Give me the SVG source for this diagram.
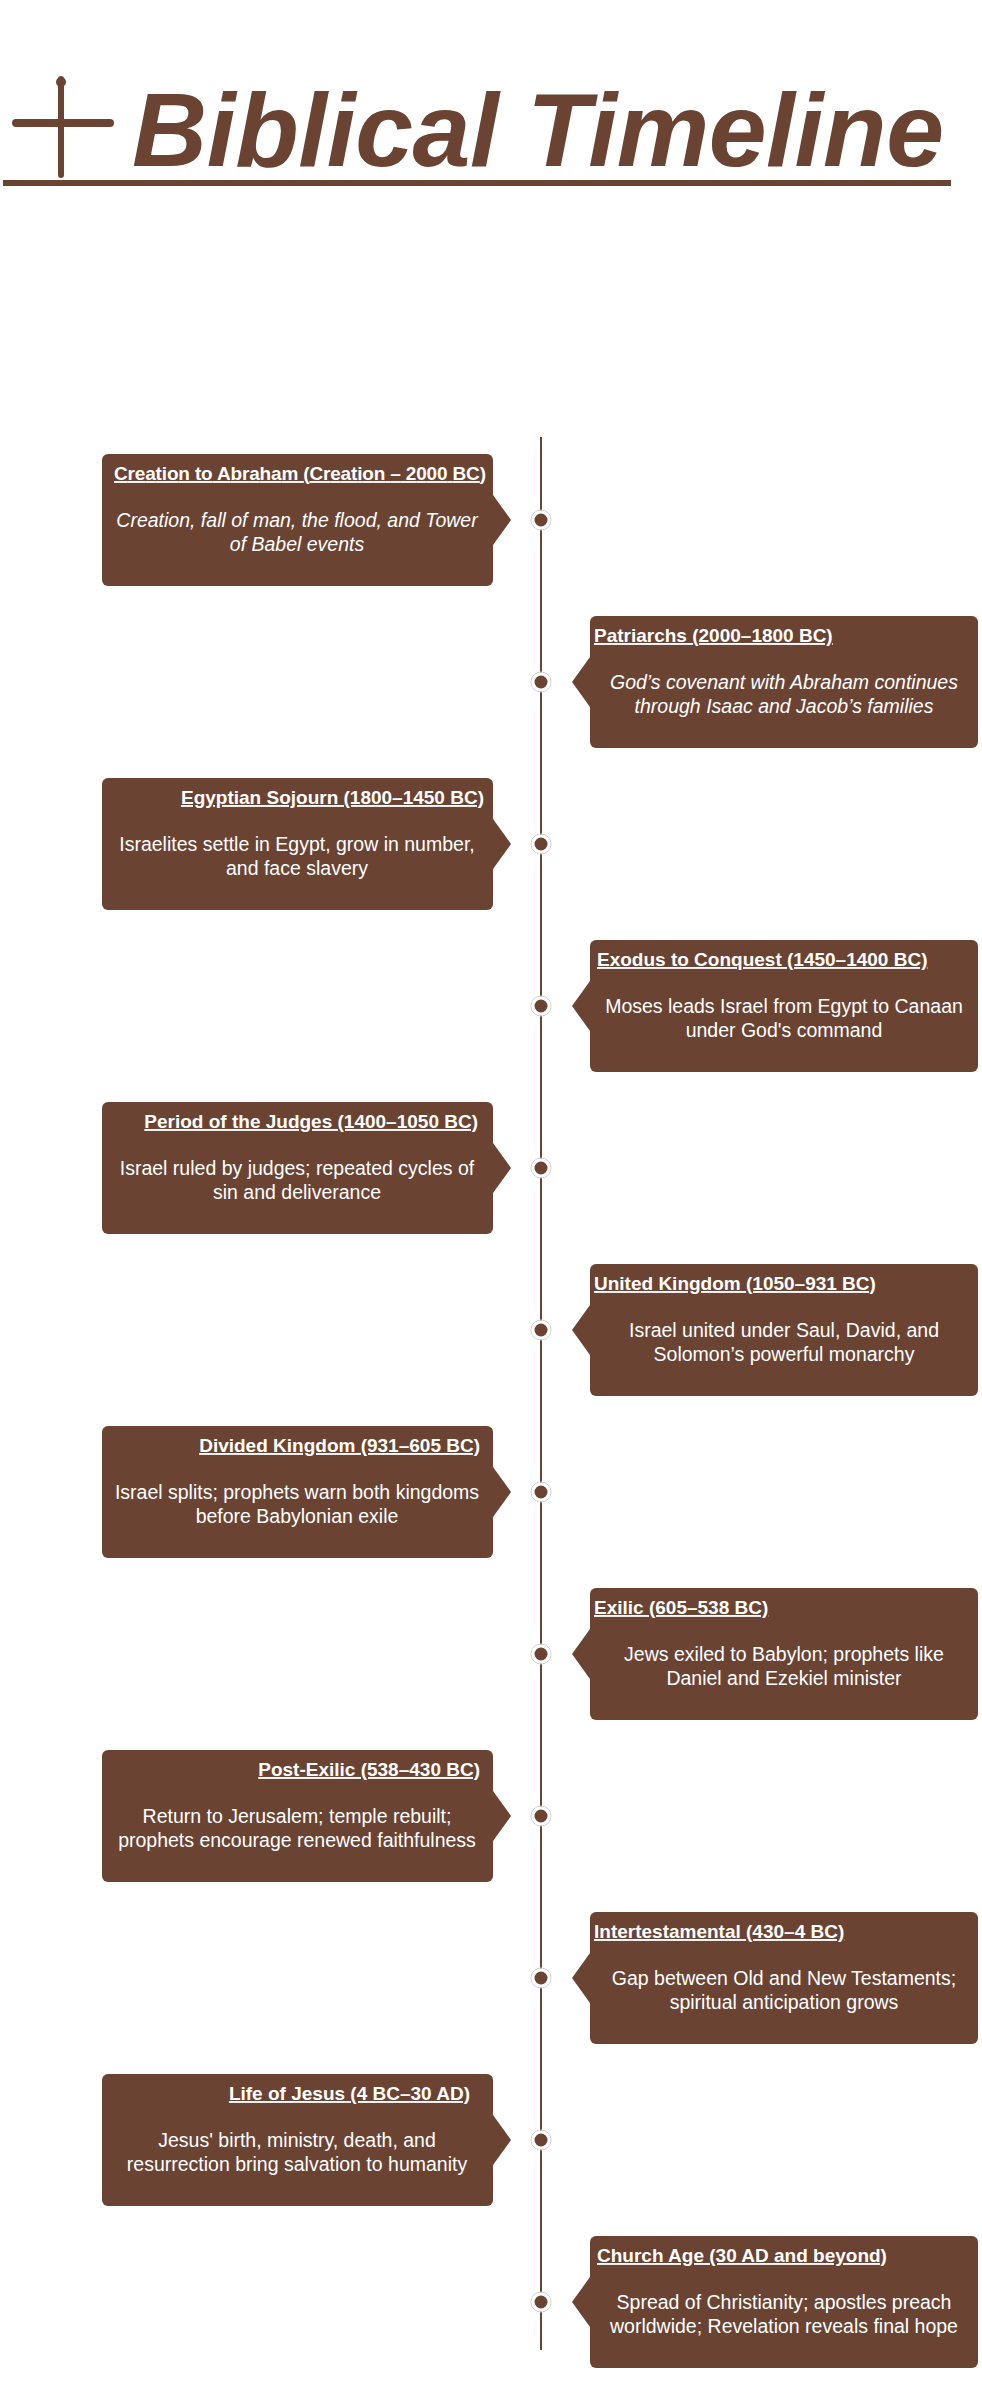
<svg xmlns="http://www.w3.org/2000/svg" width="982" height="2381" viewBox="0 0 982 2381">
<style>
.b{fill:#6B4332}
.t{font-family:"Liberation Sans",Arial,sans-serif;font-size:19px;font-weight:bold;fill:#fff;text-decoration:underline}
.d{font-family:"Liberation Sans",Arial,sans-serif;font-size:19.5px;fill:#fff;text-anchor:middle}
.dot{fill:#6B4332;stroke:#fff;stroke-width:3}
.ring{fill:none;stroke:#ccc;stroke-width:1}
</style>
<rect width="982" height="2381" fill="#fff"/>
<g id="header">
<rect x="58" y="76" width="6" height="102" rx="3" class="b"/>
<circle cx="61" cy="82" r="5" class="b"/>
<rect x="12" y="119" width="102" height="8" rx="4" class="b"/>
<text x="132" y="166" font-family="Liberation Sans,Arial,sans-serif" font-size="104" font-weight="bold" font-style="italic" class="b" textLength="812">Biblical Timeline</text>
<rect x="3" y="180" width="948" height="6" class="b"/>
</g>
<g id="connectors">
<line x1="541" y1="437" x2="541" y2="2350" stroke="#6B4332" stroke-width="2"/>
</g>
<g id="n1"><rect x="102" y="454" width="391" height="132" rx="6" class="b"/><path d="M493 495 L511 520 L493 545Z" class="b"/><circle cx="541" cy="520" r="10" class="ring"/><circle cx="541" cy="520" r="8" class="dot"/><text class="t" x="486" y="480" text-anchor="end" textLength="372">Creation to Abraham (Creation – 2000 BC)</text><text class="d" x="297" y="527" font-style="italic">Creation, fall of man, the flood, and Tower</text><text class="d" x="297" y="551" font-style="italic">of Babel events</text></g>
<g id="n2"><rect x="590" y="616" width="388" height="132" rx="6" class="b"/><path d="M590 657 L572 682 L590 707Z" class="b"/><circle cx="541" cy="682" r="10" class="ring"/><circle cx="541" cy="682" r="8" class="dot"/><text class="t" x="594" y="642">Patriarchs (2000–1800 BC)</text><text class="d" x="784" y="689" font-style="italic">God’s covenant with Abraham continues</text><text class="d" x="784" y="713" font-style="italic">through Isaac and Jacob’s families</text></g>
<g id="n3"><rect x="102" y="778" width="391" height="132" rx="6" class="b"/><path d="M493 819 L511 844 L493 869Z" class="b"/><circle cx="541" cy="844" r="10" class="ring"/><circle cx="541" cy="844" r="8" class="dot"/><text class="t" x="484" y="804" text-anchor="end">Egyptian Sojourn (1800–1450 BC)</text><text class="d" x="297" y="851">Israelites settle in Egypt, grow in number,</text><text class="d" x="297" y="875">and face slavery</text></g>
<g id="n4"><rect x="590" y="940" width="388" height="132" rx="6" class="b"/><path d="M590 981 L572 1006 L590 1031Z" class="b"/><circle cx="541" cy="1006" r="10" class="ring"/><circle cx="541" cy="1006" r="8" class="dot"/><text class="t" x="597" y="966">Exodus to Conquest (1450–1400 BC)</text><text class="d" x="784" y="1013">Moses leads Israel from Egypt to Canaan</text><text class="d" x="784" y="1037">under God's command</text></g>
<g id="n5"><rect x="102" y="1102" width="391" height="132" rx="6" class="b"/><path d="M493 1143 L511 1168 L493 1193Z" class="b"/><circle cx="541" cy="1168" r="10" class="ring"/><circle cx="541" cy="1168" r="8" class="dot"/><text class="t" x="478" y="1128" text-anchor="end">Period of the Judges (1400–1050 BC)</text><text class="d" x="297" y="1175">Israel ruled by judges; repeated cycles of</text><text class="d" x="297" y="1199">sin and deliverance</text></g>
<g id="n6"><rect x="590" y="1264" width="388" height="132" rx="6" class="b"/><path d="M590 1305 L572 1330 L590 1355Z" class="b"/><circle cx="541" cy="1330" r="10" class="ring"/><circle cx="541" cy="1330" r="8" class="dot"/><text class="t" x="594" y="1290">United Kingdom (1050–931 BC)</text><text class="d" x="784" y="1337">Israel united under Saul, David, and</text><text class="d" x="784" y="1361">Solomon’s powerful monarchy</text></g>
<g id="n7"><rect x="102" y="1426" width="391" height="132" rx="6" class="b"/><path d="M493 1467 L511 1492 L493 1517Z" class="b"/><circle cx="541" cy="1492" r="10" class="ring"/><circle cx="541" cy="1492" r="8" class="dot"/><text class="t" x="480" y="1452" text-anchor="end">Divided Kingdom (931–605 BC)</text><text class="d" x="297" y="1499">Israel splits; prophets warn both kingdoms</text><text class="d" x="297" y="1523">before Babylonian exile</text></g>
<g id="n8"><rect x="590" y="1588" width="388" height="132" rx="6" class="b"/><path d="M590 1629 L572 1654 L590 1679Z" class="b"/><circle cx="541" cy="1654" r="10" class="ring"/><circle cx="541" cy="1654" r="8" class="dot"/><text class="t" x="594" y="1614">Exilic (605–538 BC)</text><text class="d" x="784" y="1661">Jews exiled to Babylon; prophets like</text><text class="d" x="784" y="1685">Daniel and Ezekiel minister</text></g>
<g id="n9"><rect x="102" y="1750" width="391" height="132" rx="6" class="b"/><path d="M493 1791 L511 1816 L493 1841Z" class="b"/><circle cx="541" cy="1816" r="10" class="ring"/><circle cx="541" cy="1816" r="8" class="dot"/><text class="t" x="480" y="1776" text-anchor="end">Post-Exilic (538–430 BC)</text><text class="d" x="297" y="1823">Return to Jerusalem; temple rebuilt;</text><text class="d" x="297" y="1847">prophets encourage renewed faithfulness</text></g>
<g id="n10"><rect x="590" y="1912" width="388" height="132" rx="6" class="b"/><path d="M590 1953 L572 1978 L590 2003Z" class="b"/><circle cx="541" cy="1978" r="10" class="ring"/><circle cx="541" cy="1978" r="8" class="dot"/><text class="t" x="594" y="1938">Intertestamental (430–4 BC)</text><text class="d" x="784" y="1985">Gap between Old and New Testaments;</text><text class="d" x="784" y="2009">spiritual anticipation grows</text></g>
<g id="n11"><rect x="102" y="2074" width="391" height="132" rx="6" class="b"/><path d="M493 2115 L511 2140 L493 2165Z" class="b"/><circle cx="541" cy="2140" r="10" class="ring"/><circle cx="541" cy="2140" r="8" class="dot"/><text class="t" x="470" y="2100" text-anchor="end">Life of Jesus (4 BC–30 AD)</text><text class="d" x="297" y="2147">Jesus' birth, ministry, death, and</text><text class="d" x="297" y="2171">resurrection bring salvation to humanity</text></g>
<g id="n12"><rect x="590" y="2236" width="388" height="132" rx="6" class="b"/><path d="M590 2277 L572 2302 L590 2327Z" class="b"/><circle cx="541" cy="2302" r="10" class="ring"/><circle cx="541" cy="2302" r="8" class="dot"/><text class="t" x="597" y="2262">Church Age (30 AD and beyond)</text><text class="d" x="784" y="2309">Spread of Christianity; apostles preach</text><text class="d" x="784" y="2333">worldwide; Revelation reveals final hope</text></g>
</svg>
